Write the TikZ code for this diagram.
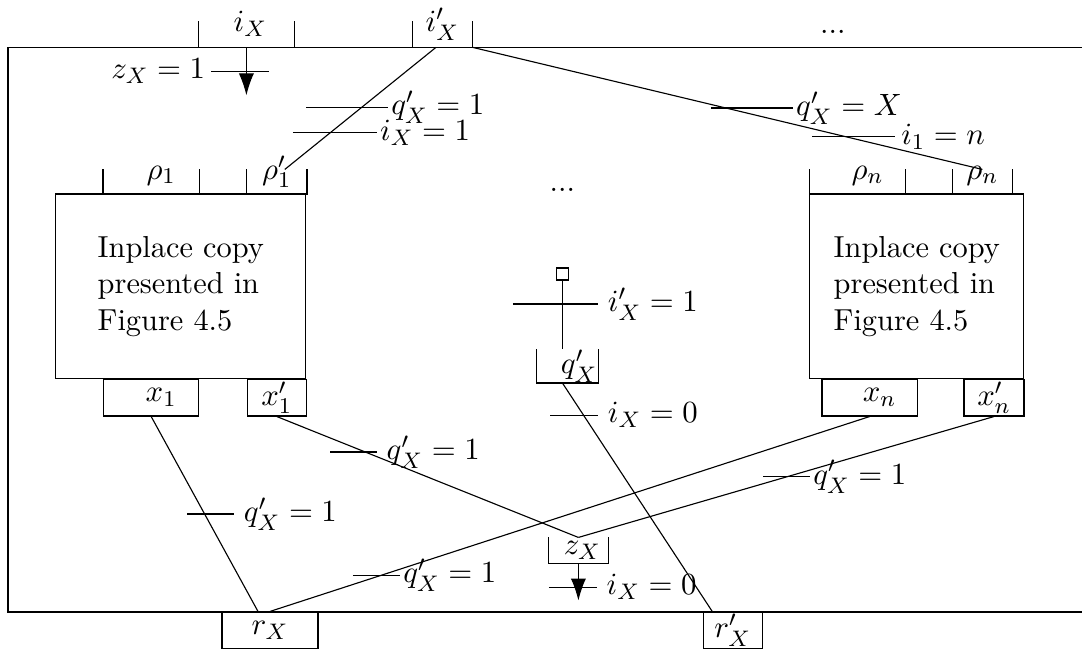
\documentclass[tikz,border=0pt]{standalone}
\usepackage{amsmath}
\usepackage{tikz}
\usetikzlibrary{arrows.meta}

\begin{document}
\begin{tikzpicture}[
        font=\fontsize{10.8pt}{13pt}\selectfont,
        port/.style={inner sep=0, minimum height=0.31cm},
        upper/.style={text height=0.1cm, text depth=0.17cm},
        nudge/.style={execute at begin node={\hspace*{#1}}},
        pin/.style={draw, rectangle, inner sep=0, minimum height=0.46cm},
        comp/.style={draw, rectangle, align=left, minimum height=2.31cm},
        wire/.style={thin},
        guard/.style={thin},
        flow/.style={-{Latex[length=0.275cm,width=0.19cm]}, thin}
    ]
        \useasboundingbox (0,0) rectangle (13.525,-8.15);

        % outer frame (open to the right)
        \draw (13.525,-0.59) -- (0.10,-0.59) -- (0.10,-7.65) -- (13.525,-7.65);

        % top ports
        \node[port, upper, nudge=0.1cm, minimum width=1.19cm] (iX) at (3.08,-0.43) {$i_X$};
        \node[port, upper, minimum width=0.74cm] (iXp) at (5.53,-0.43) {$i'_X$};
        \node (topdots) at (10.41,-0.40) {...};

        % copies
        \node[comp, minimum width=3.125cm] (copy1) at (2.26,-3.58) {Inplace copy\\presented in\\Figure 4.5};
        \node[comp, minimum width=2.675cm] (copyn) at (11.46,-3.58) {Inplace copy\\presented in\\Figure 4.5};
        \node (middots) at (7.03,-2.375) {...};

        \node[port, upper, nudge=0.25cm, minimum width=1.19cm, minimum height=0.30cm] (rho1) at (1.89,-2.275) {$\rho_1$};
        \node[port, upper, minimum width=0.74cm, minimum height=0.30cm] (rho1p) at (3.46,-2.275) {$\rho'_1$};
        \node[port, upper, nudge=0.25cm, minimum width=1.19cm, minimum height=0.30cm] (rhon) at (10.72,-2.275) {$\rho_n$};
        \node[port, upper, minimum width=0.74cm, minimum height=0.30cm] (rhonp) at (12.28,-2.275) {$\rho_n$};

        \node[pin, nudge=0.25cm, minimum width=1.19cm] (x1) at (1.89,-4.97) {$x_1$};
        \node[pin, minimum width=0.74cm] (x1p) at (3.46,-4.97) {$x'_1$};
        \node[pin, nudge=0.25cm, minimum width=1.19cm] (xn) at (10.87,-4.97) {$x_n$};
        \node[pin, minimum width=0.75cm] (xnp) at (12.425,-4.97) {$x'_n$};

        % middle part
        \node[draw, rectangle, inner sep=0, minimum size=0.15cm] (sq) at (7.03,-3.425) {};
        \node[port, nudge=0.3cm, minimum width=0.76cm, minimum height=0.30cm] (qXp) at (7.09,-4.575) {$q'_X$};
        \node[port, nudge=0.1cm, minimum width=0.74cm] (zX) at (7.23,-6.88) {$z_X$};

        % bottom ports
        \node[pin, minimum width=1.2cm] (rX) at (3.375,-7.88) {$r_X$};
        \node[pin, minimum width=0.74cm] (rXp) at (9.16,-7.88) {$r'_X$};

        % open ports
        \foreach \p in {iX,iXp,rho1,rho1p,rhon,rhonp,qXp,zX}
            \draw (\p.north west) |- (\p.south east) -- (\p.north east);

        % connectors
        \draw[wire] ([xshift=-0.08cm]iXp.south) -- ([xshift=0.1cm]rho1p.north);
        \draw[wire] (iXp.south east) -- (rhonp.north);
        \draw[wire] (x1.south) -- ([xshift=-0.15cm]rX.north);
        \draw[wire] (rX.north) -- (xn.south);
        \draw[wire] (x1p.south) -- (zX.north);
        \draw[wire] (zX.north) -- (xnp.south);
        \draw[wire] ([xshift=-0.06cm]qXp.south) -- ([xshift=0.12cm]rXp.north west);
        \draw[wire] (sq.south) -- (sq.south |- qXp.north);

        \draw[flow] (iX.south) -- ++(0,-0.60);
        \draw[flow] (zX.south) -- ++(0,-0.465);

        % guards
        \draw[guard] (3.36,-0.89) -- (2.64,-0.89) node[left, inner sep=2pt] {$z_X = 1$};
        \draw[guard] (3.825,-1.34) -- (4.85,-1.34) node[right, inner sep=1pt] {$q'_X = 1$};
        \draw[guard] (3.66,-1.66) -- (4.71,-1.66) node[right, inner sep=1pt] {$i_X = 1$};
        \draw[guard] (8.89,-1.35) -- (9.91,-1.35) node[right, inner sep=1pt] {$q'_X = X$};
        \draw[guard] (10.15,-1.71) -- (11.19,-1.71) node[right, inner sep=2pt] {$i_1 = n$};
        \draw[guard] (6.41,-3.80) -- (7.475,-3.80) node[right] {$i'_X = 1$};
        \draw[guard] (6.875,-5.19) -- (7.475,-5.19) node[right] {$i_X = 0$};
        \draw[guard] (4.125,-5.65) -- (4.71,-5.65) node[right] {$q'_X = 1$};
        \draw[guard] (2.34,-6.425) -- (2.925,-6.425) node[right] {$q'_X = 1$};
        \draw[guard] (4.41,-7.19) -- (5.0,-7.19) node[right, inner sep=1pt] {$q'_X = 1$};
        \draw[guard] (9.54,-5.96) -- (10.125,-5.96) node[right, inner sep=1pt] {$q'_X = 1$};
        \draw[guard] (6.86,-7.34) -- (7.46,-7.34) node[right] {$i_X = 0$};
    \end{tikzpicture}
\end{document}
